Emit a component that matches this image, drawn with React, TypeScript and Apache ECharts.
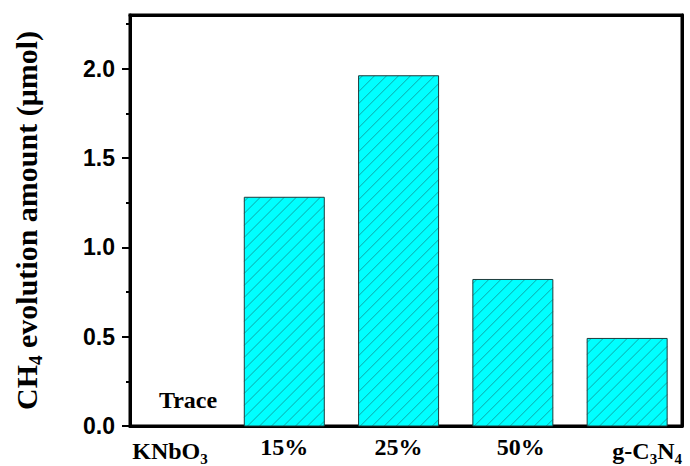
import React, { useEffect, useRef } from "react";
import * as echarts from "echarts";

const categories = ["KNbO3", "15%", "25%", "50%", "g-C3N4"];
const positions = [1, 2, 3, 4, 5];
const values = [0, 1.28, 1.96, 0.82, 0.49];
const traceLabel = "Trace";
const yTicks = [0, 0.5, 1.0, 1.5, 2.0];
const yMinorTicks = [0.25, 0.75, 1.25, 1.75, 2.25];
const yTitle = "{m|CH}{s|4}{m| evolution amount (μmol)}";

const serif = "'Liberation Serif', 'Times New Roman', serif";
const sans = "'Liberation Sans', Arial, sans-serif";

const W = 690;
const H = 466;
const BAR_FRACTION = 0.7;
const HATCH_STEP = 12;

function richCategory(c: string): string {
  if (c === "KNbO3") return "{m|KNbO}{s|3}";
  if (c === "g-C3N4") return "{pad| }{m|g-C}{s|3}{m|N}{s|4}";
  if (c === "50%") return "{pad2| }{m|50%}";
  return "{m|" + c + "}";
}

function renderBar(params: any, api: any) {
  const xv = api.value(0);
  const v = api.value(1);
  const base = api.coord([xv, 0]);
  if (!(v > 0)) {
    return {
      type: "text",
      x: base[0] + 18,
      y: base[1] - 14,
      style: {
        text: traceLabel,
        fill: "#000",
        fontFamily: serif,
        fontWeight: "bold",
        fontSize: 24,
        align: "center",
        verticalAlign: "bottom",
      },
    };
  }
  const top = api.coord([xv, v]);
  const w = api.size([1, 0])[0] * BAR_FRACTION;
  const x0 = base[0] - w / 2;
  const yb = base[1];
  const h = yb - top[1];
  const children: any[] = [
    { type: "rect", shape: { x: x0, y: top[1], width: w, height: h }, style: { fill: "#00ffff" } },
  ];
  for (let c = -h + 4; c < w; c += HATCH_STEP) {
    const t1 = Math.max(0, -c);
    const t2 = Math.min(h, w - c);
    if (t2 <= t1) continue;
    children.push({
      type: "line",
      shape: { x1: x0 + c + t1, y1: yb - t1, x2: x0 + c + t2, y2: yb - t2 },
      style: { stroke: "rgba(20,110,110,0.6)", lineWidth: 1 },
    });
  }
  children.push({
    type: "rect",
    shape: { x: x0, y: top[1], width: w, height: h },
    style: { fill: "transparent", stroke: "#1e3c3c", lineWidth: 1 },
  });
  return { type: "group", children };
}

export default function App() {
  const ref = useRef<HTMLDivElement>(null);
  useEffect(() => {
    if (!ref.current) return;
    const chart = echarts.init(ref.current, null, { renderer: "svg" });
    const data = positions.map((p, i) => [p, values[i]]);
    const frameAxis = {
      splitLine: { show: false },
      axisTick: { show: false },
      axisLabel: { show: false },
      axisLine: { show: true, onZero: false, lineStyle: { color: "#000", width: 3 } },
    };
    chart.setOption({
      animation: false,
      backgroundColor: "#ffffff",
      grid: {
        left: 130,
        right: 8,
        top: 15,
        bottom: 39,
        show: true,
        borderColor: "#000",
        borderWidth: 3,
      },
      xAxis: [
        {
          type: "value",
          min: 0.65,
          max: 5.48,
          position: "bottom",
          splitLine: { show: false },
          axisTick: { show: false },
          axisLine: { show: true, onZero: false, lineStyle: { color: "#000", width: 3 } },
          axisLabel: {
            customValues: positions,
            margin: 9,
            formatter: (v: number) => richCategory(categories[Math.round(v) - 1] || ""),
            rich: {
              m: { fontFamily: serif, fontWeight: "bold", fontSize: 24, color: "#000" },
              s: { fontFamily: serif, fontWeight: "bold", fontSize: 15, color: "#000", padding: [16, 0, 0, 0] },
              pad: { width: 40 },
              pad2: { width: 16 },
            },
          },
        },
        { type: "value", min: 0.65, max: 5.48, position: "top", ...frameAxis },
      ],
      yAxis: [
        {
          type: "value",
          min: 0,
          max: 2.3,
          position: "left",
          splitLine: { show: false },
          axisLine: { show: true, onZero: false, lineStyle: { color: "#000", width: 3 } },
          axisTick: { show: true, inside: false, length: 8, customValues: yTicks, lineStyle: { color: "#000", width: 2 } },
          axisLabel: {
            customValues: yTicks,
            margin: 15,
            fontFamily: sans,
            fontWeight: "bold",
            fontSize: 23,
            color: "#000",
            formatter: (v: number) => v.toFixed(1),
          },
          name: yTitle,
          nameLocation: "middle",
          nameRotate: 90,
          nameGap: 85,
          nameTextStyle: {
            rich: {
              m: { fontFamily: serif, fontWeight: "bold", fontSize: 30, color: "#000" },
              s: { fontFamily: serif, fontWeight: "bold", fontSize: 19, color: "#000", padding: [18, 0, 0, 0] },
            },
          },
        },
        {
          type: "value",
          min: 0,
          max: 2.3,
          position: "left",
          splitLine: { show: false },
          axisLine: { show: false },
          axisLabel: { show: false },
          axisTick: { show: true, inside: false, length: 4, customValues: yMinorTicks, lineStyle: { color: "#000", width: 2 } },
        },
        { type: "value", min: 0, max: 2.3, position: "right", ...frameAxis },
      ],
      series: [
        {
          type: "custom",
          xAxisIndex: 0,
          yAxisIndex: 0,
          renderItem: renderBar,
          encode: { x: 0, y: 1 },
          data,
        },
      ],
    });
    return () => chart.dispose();
  }, []);
  return (
    <div
      ref={ref}
      style={{ position: "fixed", left: 0, top: 0, width: W, height: H, background: "#fff" }}
    />
  );
}
